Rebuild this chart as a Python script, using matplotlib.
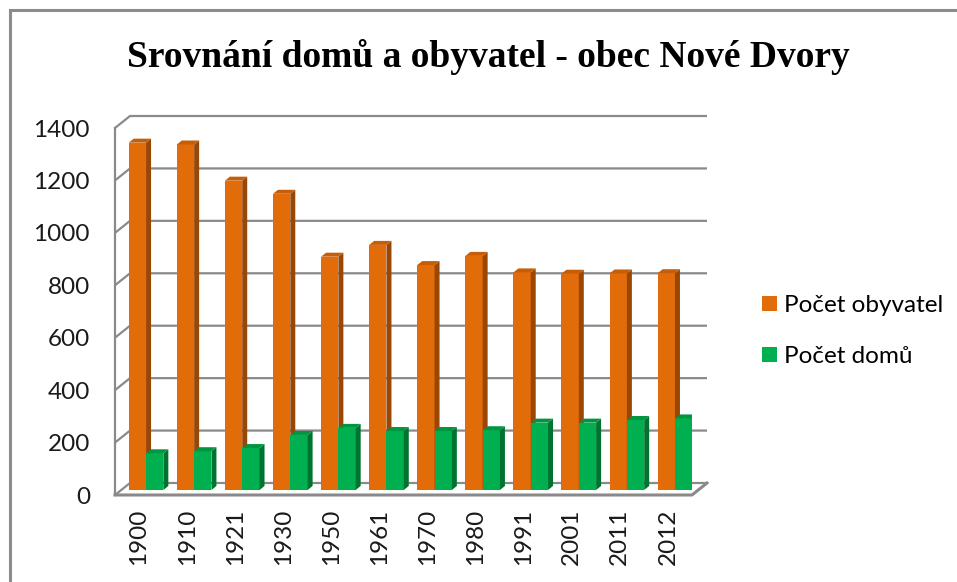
import matplotlib
matplotlib.use("Agg")
import matplotlib.pyplot as plt
from matplotlib.patches import Polygon, Rectangle
from matplotlib.transforms import ScaledTranslation

years = ["1900", "1910", "1921", "1930", "1950", "1961", "1970", "1980", "1991", "2001", "2011", "2012"]
obyvatel = [1325, 1318, 1180, 1130, 890, 935, 858, 893, 830, 825, 826, 827]
domu = [140, 148, 160, 210, 237, 225, 225, 228, 257, 257, 267, 273]
series_names = ["Počet obyvatel", "Počet domů"]
yticks = [0, 200, 400, 600, 800, 1000, 1200, 1400]

C_OR = "#E36C0A"; C_OR_SIDE = "#9A4706"; C_OR_TOP = "#C65E08"
C_GR = "#00B050"; C_GR_SIDE = "#00742F"; C_GR_TOP = "#00963F"
GRID = "#8a8a8a"

W, H = 957, 582
DPI = 100
fig = plt.figure(figsize=(W / DPI, H / DPI), dpi=DPI)
TICKFONT = "Lato"

# front plane of the 3D box
left, right, bottom, top = 115, 692, 495, 128
ax = fig.add_axes([left / W, (H - bottom) / H, (right - left) / W, (bottom - top) / H])
ax.set_xlim(-0.5, len(years) - 0.5)
ax.set_ylim(0, 1400)
for s in ax.spines.values():
    s.set_visible(False)
ax.set_facecolor("none")

# pixel -> data units
ux = (len(years)) / (right - left)
uy = 1400 / (bottom - top)

def off(px, py):
    return ax.transData + ScaledTranslation(px / DPI, py / DPI, fig.dpi_scale_trans)

wall_dx, wall_dy = 15, 12
xmin, xmax = -0.5, len(years) - 0.5
# gridlines on back wall + side wall
for v in yticks:
    ax.plot([xmin, xmin + wall_dx * ux, xmax + wall_dx * ux],
            [v, v + wall_dy * uy, v + wall_dy * uy], color=GRID, lw=1.6,
            solid_capstyle="butt", zorder=1, clip_on=False)
# left front vertical edge
ax.plot([xmin, xmin], [0, 1400], color=GRID, lw=1.6, zorder=1, clip_on=False)
# floor front edge and right diagonal
ax.plot([xmin, xmax, xmax + wall_dx * ux], [0, 0, wall_dy * uy], color=GRID, lw=2.2,
        zorder=1, clip_on=False)

# bars
bw = 0.36
bar_dx, bar_dy = 7, 5
dpx, dpy = 5, 4
tr = off(bar_dx, bar_dy)

def draw_series(xs, vals, front, side, topc, z):
    ax.bar(xs, vals, width=bw, color=front, transform=tr, zorder=z, linewidth=0)
    for x, v in zip(xs, vals):
        x1 = x + bw / 2
        x0 = x - bw / 2
        side_poly = [(x1, 0), (x1 + dpx * ux, dpy * uy), (x1 + dpx * ux, v + dpy * uy), (x1, v)]
        top_poly = [(x0, v), (x1, v), (x1 + dpx * ux, v + dpy * uy), (x0 + dpx * ux, v + dpy * uy)]
        ax.add_patch(Polygon(side_poly, closed=True, facecolor=side, edgecolor="none",
                             transform=tr, zorder=z))
        ax.add_patch(Polygon(top_poly, closed=True, facecolor=topc, edgecolor="none",
                             transform=tr, zorder=z))

idx = list(range(len(years)))
draw_series([i - bw / 2 for i in idx], obyvatel, C_OR, C_OR_SIDE, C_OR_TOP, 3)
draw_series([i + bw / 2 for i in idx], domu, C_GR, C_GR_SIDE, C_GR_TOP, 4)

ax.set_yticks(yticks)
ax.set_yticklabels([str(v) for v in yticks], fontsize=17.5, family=TICKFONT, color="#1a1a1a")
ax.set_xticks(idx)
ax.set_xticklabels(years, rotation=90, fontsize=17.5, family=TICKFONT, color="#1a1a1a")
ax.tick_params(axis="y", length=0, pad=18)
ax.tick_params(axis="x", length=0, pad=10)

# title
fig.text(488 / W, (H - 66.7) / H, "Srovnání domů a obyvatel - obec Nové Dvory",
         ha="center", va="baseline", fontsize=27, fontweight="bold", family="Liberation Serif")

# legend
handles = [Rectangle((0, 0), 1, 1, facecolor=C_OR, edgecolor="none"),
           Rectangle((0, 0), 1, 1, facecolor=C_GR, edgecolor="none")]
leg = fig.legend(handles, series_names, loc="center left",
                 bbox_to_anchor=(762 / W, (H - 331) / H), frameon=False,
                 prop={"family": TICKFONT, "size": 17.5}, handlelength=0.6, handleheight=0.6,
                 handletextpad=0.3, labelspacing=1.22, borderaxespad=0, borderpad=0)

# outer frame (extends beyond right/bottom edges)
fig.add_artist(Rectangle((9.5 / W, -0.1), 1.2, (H - 10) / H + 0.1, transform=fig.transFigure,
                         facecolor="none", edgecolor="#8c8c8c", lw=2.2))

fig.savefig("out.png", dpi=DPI)
